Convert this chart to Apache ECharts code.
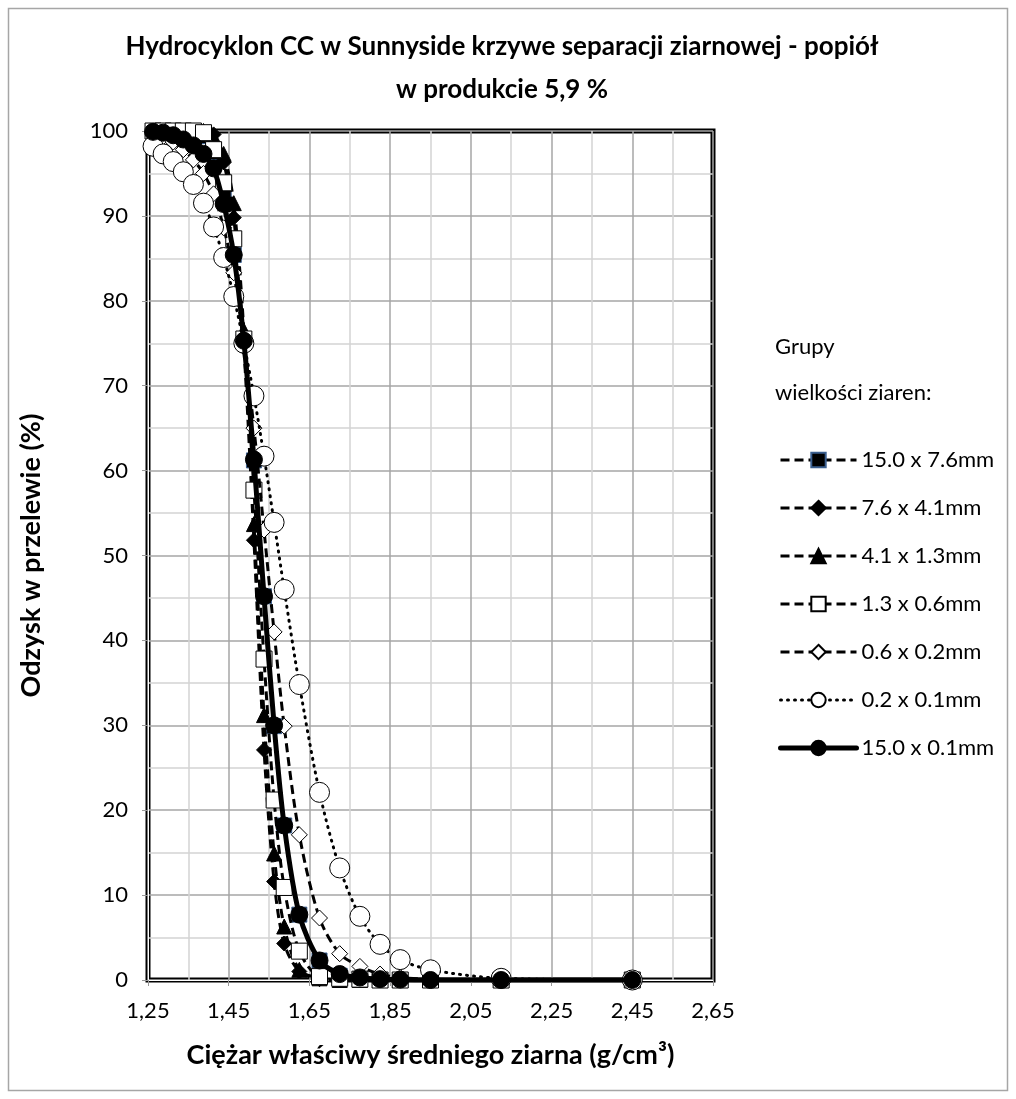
<!DOCTYPE html>
<html>
<head>
<meta charset="utf-8">
<script src="https://cdn.jsdelivr.net/npm/echarts@6/dist/echarts.min.js"></script>
<style>
html,body{margin:0;padding:0;background:#fff;}
#chart{width:1016px;height:1099px;}
</style>
</head>
<body>
<div id="chart"></div>
<script>
// density (g/cm3) – fraction midpoints
const xValues = [1.2625,1.2875,1.3125,1.3375,1.3625,1.3875,1.4125,1.4375,1.4625,1.4875,1.5125,1.5375,1.5625,1.5875,1.625,1.675,1.725,1.775,1.825,1.875,1.95,2.125,2.45];
const seriesNames = ['15.0 x 7.6mm','7.6 x 4.1mm','4.1 x 1.3mm','1.3 x 0.6mm','0.6 x 0.2mm','0.2 x 0.1mm','15.0 x 0.1mm'];
const s_15_76 = [100,100,100,100,99.9,99.4,97.5,92.3,85.4,75.3,61.2,45.2,29.9,18.2,7.7,2.3,0.5,0.1,0,0,0,0,0];
const s_76_41 = [100,100,100,100,100,99.9,99.6,96.3,89.8,74.5,51.8,27.1,11.6,4.3,1.0,0.1,0,0,0,0,0,0,0];
const s_41_13 = [100,100,100,100,100,100,99.3,97.3,91.5,76.5,53.7,31.2,14.9,6.3,1.2,0.2,0,0,0,0,0,0,0];
const s_13_06 = [100,100,100,100,100,99.8,97.8,93.9,87.3,75.5,57.7,37.8,21.2,10.9,3.4,0.4,0.2,0.1,0,0,0,0,0];
const s_06_02 = [99.8,99.3,98.7,97.8,96.6,95.0,92.6,88.6,83.3,75.0,65.0,53.0,41.0,29.9,17.1,7.3,3.1,1.6,0.7,0.3,0.1,0,0];
const s_02_01 = [98.2,97.3,96.4,95.2,93.7,91.5,88.7,85.1,80.5,75.0,68.8,61.7,53.9,46.0,34.8,22.1,13.2,7.5,4.2,2.4,1.2,0.2,0];
const s_15_01 = [99.9,99.8,99.5,99.0,98.3,97.3,95.6,91.4,85.4,75.3,61.3,45.2,30.0,18.2,7.7,2.3,0.7,0.3,0.1,0.05,0,0,0];

const chartTitle = 'Hydrocyklon CC w Sunnyside krzywe separacji ziarnowej - popiół\nw produkcie 5,9 %';
const xTitle = 'Ciężar właściwy średniego ziarna (g/cm³)';
const yTitle = 'Odzysk w przelewie (%)';
const legendTitle = 'Grupy\nwielkości ziaren:';

const FONT = 'Lato, "Open Sans", sans-serif';
function pairs(arr){ return xValues.map((x,i)=>[x, arr[i]]); }

const DASH = [9,5];
const DOT = [1,6];
const styles = [
  {data:s_15_76, symbol:'rect', size:15, fill:'#000', border:'#3b5f8f', lw:3, dash:DASH, cap:'butt'},
  {data:s_76_41, symbol:'diamond', size:15, fill:'#000', border:'#000', lw:3, dash:DASH, cap:'butt'},
  {data:s_41_13, symbol:'triangle', size:15, fill:'#000', border:'#000', lw:3, dash:DASH, cap:'butt'},
  {data:s_13_06, symbol:'rect', size:16, fill:'#fff', border:'#000', lw:3, dash:DASH, cap:'butt'},
  {data:s_06_02, symbol:'diamond', size:16, fill:'#fff', border:'#000', lw:3, dash:DASH, cap:'butt'},
  {data:s_02_01, symbol:'circle', size:20, fill:'#fff', border:'#000', lw:3, dash:DOT, cap:'round'},
  {data:s_15_01, symbol:'circle', size:17, fill:'#000', border:'#000', lw:5, dash:'solid', cap:'round'}
];

const series = styles.map((s,i)=>({
  name: seriesNames[i],
  type:'line',
  data: pairs(s.data),
  smooth: 0.3,
  symbol: s.symbol,
  symbolSize: s.size,
  showAllSymbol: true,
  z: 2 + i,
  lineStyle: {color:'#000', width:s.lw, type: s.dash, cap: s.cap},
  itemStyle: {color:s.fill, borderColor:s.border, borderWidth:1, opacity:1},
  emphasis:{disabled:true},
  animation:false
}));

const legendData = styles.map((s,i)=>({
  name: seriesNames[i],
  lineStyle:{color:'#000', width:s.lw, type:s.dash, cap:s.cap}
}));

const chart = echarts.init(document.getElementById('chart'), null, {renderer:'canvas'});
chart.setOption({
  backgroundColor:'#fff',
  animation:false,
  title:{
    text: chartTitle,
    left: 497, top: 20, textAlign:'center',
    textStyle:{fontFamily:FONT, fontWeight:'bold', fontSize:26, color:'#000', lineHeight:43}
  },
  grid:{left:148, top:131, width:565, height:849, show:true, borderColor:'#000', borderWidth:5, backgroundColor:'transparent'},
  xAxis:{
    type:'value', min:1.25, max:2.65, interval:0.2,
    name: xTitle, nameLocation:'middle', nameGap:62,
    nameTextStyle:{fontFamily:FONT, fontWeight:'bold', fontSize:27, color:'#000'},
    axisLine:{show:true, lineStyle:{color:'#fff', width:1}},
    axisTick:{show:true, length:6, lineStyle:{color:'#999'}},
    axisLabel:{fontFamily:FONT, fontSize:22, color:'#000', margin:20,
      formatter:v=>v.toFixed(2).replace('.',',')},
    splitLine:{show:true, lineStyle:{color:'#a6a6a6', width:1.5}},
    minorTick:{show:true, splitNumber:2, length:0},
    minorSplitLine:{show:true, lineStyle:{color:'#d4d4d4', width:1.5}}
  },
  yAxis:{
    type:'value', min:0, max:100, interval:10,
    name: yTitle, nameLocation:'middle', nameGap:103, nameRotate:90,
    nameTextStyle:{fontFamily:FONT, fontWeight:'bold', fontSize:27, color:'#000'},
    axisLine:{show:true, lineStyle:{color:'#fff', width:1}},
    axisTick:{show:true, length:6, lineStyle:{color:'#999'}},
    axisLabel:{fontFamily:FONT, fontSize:22, color:'#000', margin:20},
    splitLine:{show:true, lineStyle:{color:'#a6a6a6', width:1.5}},
    minorTick:{show:true, splitNumber:2, length:0},
    minorSplitLine:{show:true, lineStyle:{color:'#d4d4d4', width:1.5}}
  },
  legend:{
    orient:'vertical', left:773, top:444, itemGap:26, itemWidth:76, itemHeight:18,
    textStyle:{fontFamily:FONT, fontSize:22, color:'#000', padding:[0,0,0,0]},
    data: legendData,
    selectedMode:false
  },
  graphic:[
    {type:'rect', shape:{x:8.5, y:8.5, width:999, height:1082}, style:{fill:'none', stroke:'#a6a6a6', lineWidth:1.5}, silent:true, z:-10},
    {type:'text', left:775, top:324, style:{text:legendTitle, font:'22px '+FONT, fill:'#000', lineHeight:46}}
  ],
  series: series
});
</script>
</body>
</html>
